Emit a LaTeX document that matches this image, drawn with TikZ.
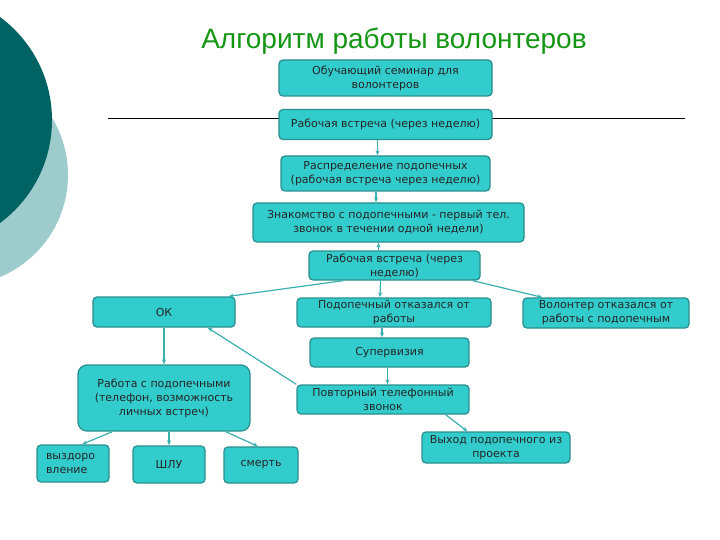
\documentclass[tikz,border=0pt]{standalone}
\usepackage{fontspec}
\setmainfont{DejaVu Sans}
\newfontfamily\titlefont{Liberation Sans}
\usetikzlibrary{arrows.meta,positioning,calc}
\definecolor{boxfill}{RGB}{51,204,204}
\definecolor{boxline}{RGB}{42,143,143}
\definecolor{linkcol}{RGB}{58,176,176}
\definecolor{darkcirc}{RGB}{0,98,98}
\definecolor{lightcirc}{RGB}{158,204,204}
\definecolor{titlecol}{RGB}{20,150,20}
\begin{document}
\begin{tikzpicture}[
        x=1pt, y=-1pt,
        font=\fontsize{11}{14}\selectfont,
        arrow/.style={-{Stealth[length=5pt,width=4pt]}, line width=1.2pt, draw=linkcol},
        stage/.style={draw=boxline, line width=1.3pt, fill=boxfill, rounded corners=4pt,
                      align=center, inner sep=1pt, text=black!85},
        bigstage/.style={stage, rounded corners=9pt},
        title/.style={font=\titlefont\fontsize{28}{30}\selectfont, text=titlecol}
    ]
        \useasboundingbox (0,0) rectangle (720,540);
        \begin{scope}
            \clip (0,0) rectangle (720,540);
            \fill[lightcirc] (-42.5,175) circle[radius=110.5];
            \fill[darkcirc] (-76,120) circle[radius=128];
        \end{scope}

        \node[title] (head) at (394,41) {Алгоритм работы волонтеров};

        \coordinate (ruleL) at (108,119);
        \coordinate (ruleR) at (685,119);
        \draw[line width=1pt] (ruleL) -- (ruleR);

        \node[stage, minimum width=213pt, minimum height=36pt] (seminar) at (385.5,78)
              {Обучающий семинар  для\\волонтеров};
        \node[stage, minimum width=213pt, minimum height=30pt] (meetA) at (385.5,124.5)
              {Рабочая встреча (через неделю)};
        \node[stage, minimum width=209pt, minimum height=35pt] (assign) at (385.5,173.5)
              {Распределение подопечных\\(рабочая встреча через неделю)};
        \node[stage, minimum width=271pt, minimum height=39pt] (meetwards) at (388.5,222.5)
              {Знакомство с подопечными - первый тел.\\звонок в течении одной недели)};
        \node[stage, minimum width=171pt, minimum height=29pt] (meetB) at (394.5,265.5)
              {Рабочая встреча (через\\неделю)};

        \node[stage, minimum width=142pt, minimum height=30pt] (okay) at (164,312) {ОК};
        \node[stage, minimum width=194pt, minimum height=29pt] (wardquit) at (394,312.5)
              {Подопечный отказался от\\работы};
        \node[stage, minimum width=166pt, minimum height=30pt] (volquit) at (606,313)
              {Волонтер отказался от\\работы с подопечным};

        \node[stage, minimum width=159pt, minimum height=29pt] (superv) at (389.5,352.5) {Супервизия};
        \node[bigstage, minimum width=172pt, minimum height=66pt] (wardwork) at (164,398)
              {Работа с подопечными\\(телефон, возможность\\личных встреч)};
        \node[stage, minimum width=172pt, minimum height=29pt] (recall) at (383,399.5)
              {Повторный телефонный\\звонок};
        \node[stage, minimum width=148pt, minimum height=31pt] (leave) at (496,447.5)
              {Выход подопечного из\\проекта};

        \node[stage, minimum width=72pt, minimum height=37pt, align=left, text width=54pt] (recover) at (73,463.5)
              {выздоро\\вление};
        \node[stage, minimum width=72pt, minimum height=37pt] (shlu) at (169,464.5) {ШЛУ};
        \node[stage, minimum width=74pt, minimum height=36pt] (death) at (261,465) {смерть};

        \draw[arrow] ([xshift=-8pt]meetA.south) -- ([xshift=-8pt]meetA.south |- assign.north);
        \draw[arrow] ([xshift=-9.5pt]assign.south) -- ([xshift=-9.5pt]assign.south |- meetwards.north);
        \draw[arrow] ([xshift=-16pt]meetB.north) -- ([xshift=-16pt]meetB.north |- meetwards.south);
        \draw[arrow] ([xshift=35pt]meetB.south west) -- ([xshift=-7pt]okay.north east);
        \draw[arrow] ([xshift=-14pt]meetB.south) -- ([xshift=-14pt]wardquit.north);
        \draw[arrow] ([xshift=-8pt]meetB.south east) -- ([xshift=20pt]volquit.north west);
        \draw[arrow] ([xshift=-12pt]wardquit.south) -- ([xshift=-12pt]wardquit.south |- superv.north);
        \draw[arrow] ([xshift=-2pt]superv.south) -- ([xshift=-2pt]superv.south |- recall.north);
        \draw[arrow] (recall.north west) -- ([xshift=-28pt]okay.south east);
        \draw[arrow] ([xshift=-24pt]recall.south east) -- ([xshift=46pt]leave.north west);
        \draw[arrow] (okay.south) -- (wardwork.north);
        \draw[arrow] ([xshift=35pt]wardwork.south west) -- ([xshift=9pt]recover.north);
        \draw[arrow] ([xshift=5pt]wardwork.south) -- (shlu.north);
        \draw[arrow] ([xshift=-25pt]wardwork.south east) -- ([xshift=-3pt]death.north);
    \end{tikzpicture}
\end{document}
